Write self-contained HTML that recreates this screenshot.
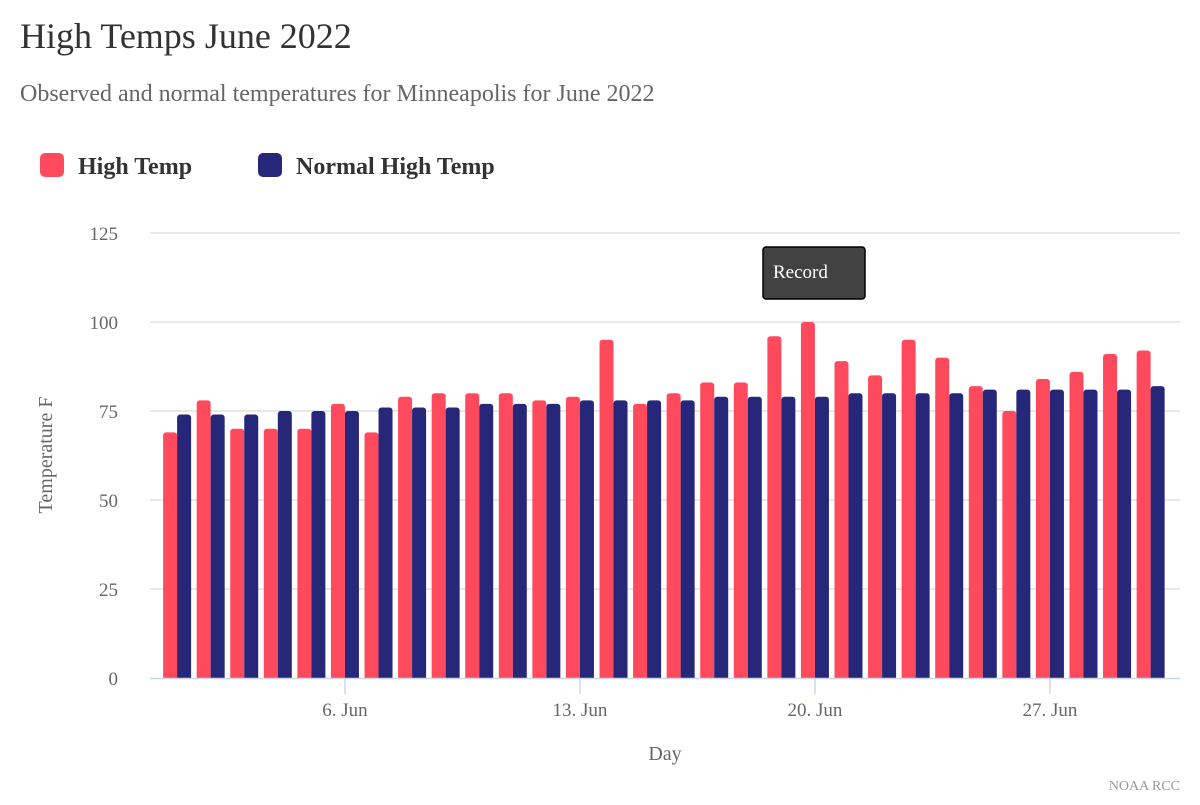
<!DOCTYPE html>
<html><head><meta charset="utf-8"><style>
body{margin:0;background:#fff;font-family:"Liberation Serif",serif;}
svg text{font-family:"Liberation Serif",serif;}
</style></head><body>
<svg id="chart" width="1200" height="800">
<text x="20" y="48" font-size="36" fill="#333">High Temps June 2022</text>
<text x="20" y="101" font-size="24" fill="#666">Observed and normal temperatures for Minneapolis for June 2022</text>
<g><rect x="40" y="153" width="24" height="24" rx="5" fill="#ff4a5e"/><text x="78" y="174" font-size="24" font-weight="bold" fill="#333">High Temp</text></g>
<g><rect x="258" y="153" width="24" height="24" rx="5" fill="#27277a"/><text x="296" y="174" font-size="24" font-weight="bold" fill="#333">Normal High Temp</text></g>
<g id="grid"></g><g id="bars"></g><g id="xaxis"></g>
<text transform="translate(52,455) rotate(-90)" text-anchor="middle" font-size="20" fill="#666">Temperature F</text>
<text x="665" y="760" text-anchor="middle" font-size="20" fill="#666">Day</text>
<g><rect x="763" y="247" width="102" height="52" rx="3" fill="#424242" stroke="#000" stroke-width="1.5"/><text x="773" y="278" font-size="19" fill="#fff">Record</text></g>
<text x="1180" y="790" text-anchor="end" font-size="14" fill="#999">NOAA RCC</text>
</svg>
<script>
const days=[1,2,3,4,5,6,7,8,9,10,11,12,13,14,15,16,17,18,19,20,21,22,23,24,25,26,27,28,29,30];
const highTemps=[69,78,70,70,70,77,69,79,80,80,80,78,79,95,77,80,83,83,96,100,89,85,95,90,82,75,84,86,91,92];
const normalHighs=[74,74,74,75,75,75,76,76,76,77,77,77,78,78,78,78,79,79,79,79,80,80,80,80,81,81,81,81,81,82];
const yTicks=[0,25,50,75,100,125];
const xTickDays=[6,13,20,27];
const xTickLabels=["6. Jun","13. Jun","20. Jun","27. Jun"];
const NS="http://www.w3.org/2000/svg";
const y=v=>678-v*3.56;
const x=d=>177.1+(d-1)*33.57;
function mk(tag,attrs,parent){const e=document.createElementNS(NS,tag);for(const k in attrs)e.setAttribute(k,attrs[k]);parent.appendChild(e);return e;}
const grid=document.getElementById('grid'),bars=document.getElementById('bars'),xa=document.getElementById('xaxis');
yTicks.forEach(t=>{
 if(t>0){const l=mk('line',{x1:150,x2:1180,y1:y(t),y2:y(t),stroke:'#e0e0e0','stroke-width':1.5},grid);
 
 }
 const tx=mk('text',{x:118,y:y(t)+7,'text-anchor':'end','font-size':19,fill:'#666'},grid);tx.textContent=t;
 
 
});
days.forEach((d,i)=>{
 const r=mk('rect',{x:x(d)-14,y:y(highTemps[i]),width:14,height:678-y(highTemps[i])+3,rx:3,fill:'#ff4a5e'},bars);
 
 
 const n=mk('rect',{x:x(d),y:y(normalHighs[i]),width:14,height:678-y(normalHighs[i])+3,rx:3,fill:'#27277a'},bars);
 
 
});
mk('rect',{x:145,y:679,width:1040,height:10,fill:'#fff'},bars);
const ax=mk('line',{x1:150,x2:1180,y1:678.5,y2:678.5,stroke:'#ccd6eb','stroke-width':1.5},xa);


xTickDays.forEach((d,i)=>{
 const t=mk('line',{x1:x(d),x2:x(d),y1:679,y2:694,stroke:'#ccd6eb','stroke-width':1.5},xa);
 
 
 const tx=mk('text',{x:x(d),y:716,'text-anchor':'middle','font-size':19,fill:'#666'},xa);tx.textContent=xTickLabels[i];
 
 
});
</script>
</body></html>
